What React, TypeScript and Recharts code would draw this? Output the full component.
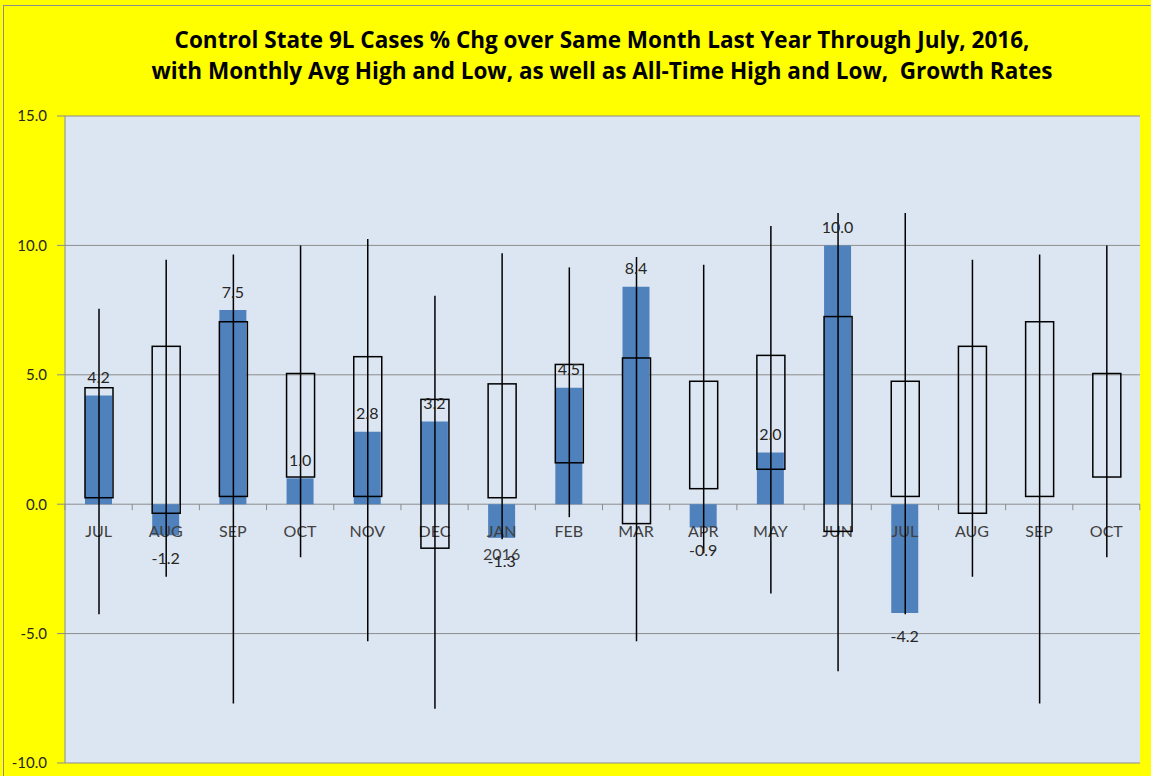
import React from 'react';
import { ComposedChart, Bar, XAxis, YAxis, CartesianGrid, LabelList } from 'recharts';

// month categories along the axis (Jul 2015 .. Oct 2016)
const months = ['JUL', 'AUG', 'SEP', 'OCT', 'NOV', 'DEC', 'JAN', 'FEB', 'MAR', 'APR', 'MAY', 'JUN', 'JUL', 'AUG', 'SEP', 'OCT'];
const yearTags = ['', '', '', '', '', '', '2016', '', '', '', '', '', '', '', '', ''];

// % change vs same month last year (blue columns)
const currentChg = [4.2, -1.2, 7.5, 1.0, 2.8, 3.2, -1.3, 4.5, 8.4, -0.9, 2.0, 10.0, -4.2, null, null, null];

// monthly average high / low (open boxes)
const avgHigh = [4.5, 6.1, 7.05, 5.05, 5.7, 4.05, 4.65, 5.4, 5.65, 4.75, 5.75, 7.25, 4.75, 6.1, 7.05, 5.05];
const avgLow = [0.25, -0.35, 0.3, 1.05, 0.3, -1.7, 0.25, 1.6, -0.75, 0.6, 1.35, -1.05, 0.3, -0.35, 0.3, 1.05];

// all-time high / low (whiskers)
const allHigh = [7.55, 9.45, 9.65, 10.0, 10.25, 8.05, 9.7, 9.15, 9.55, 9.25, 10.75, 11.25, 11.25, 9.45, 9.65, 10.0];
const allLow = [-4.25, -2.8, -7.7, -2.05, -5.3, -7.9, -1.35, -0.5, -5.3, -1.9, -3.45, -6.45, -4.25, -2.8, -7.7, -2.05];

const yTicks = [-10, -5, 0, 5, 10, 15];

const data = months.map((m, i) => ({
  idx: i,
  month: m,
  year: yearTags[i],
  current: currentChg[i],
  box: [avgLow[i], avgHigh[i]],
  range: [allLow[i], allHigh[i]],
  base: 0,
}));

const FONT = 'Lato, "Open Sans", sans-serif';

// axis labels + boundary ticks drawn on the zero line
const AxisMark = (props: any) => {
  const { x, y, width, index } = props;
  const d = data[index] || props.payload;
  const cx = x + width / 2;
  return (
    <g>
      <line x1={x} x2={x} y1={y} y2={y + 6} stroke="#8c8c8c" strokeWidth={1} />
      {index === data.length - 1 && <line x1={x + width} x2={x + width} y1={y} y2={y + 6} stroke="#8c8c8c" strokeWidth={1} />}
      <text x={cx} y={y + 26} textAnchor="middle" dominantBaseline="central" fontFamily={FONT} fontSize={16} fill="#404040">
        {d.month}
      </text>
      {d.year && (
        <text x={cx} y={y + 49} textAnchor="middle" dominantBaseline="central" fontFamily={FONT} fontSize={16} fill="#404040">
          {d.year}
        </text>
      )}
    </g>
  );
};

const BoxShape = (props: any) => {
  const { x, y, width, height } = props;
  const top = Math.min(y, y + height);
  const h = Math.abs(height);
  return <rect x={x} y={top} width={width} height={h} fill="none" stroke="#000" strokeWidth={1.5} />;
};

const Whisker = (props: any) => {
  const { x, y, width, height } = props;
  const cx = x + width / 2;
  return <line x1={cx} x2={cx} y1={Math.min(y, y + height)} y2={Math.max(y, y + height)} stroke="#000" strokeWidth={1.5} />;
};

const ValueLabel = (props: any) => {
  const { value } = props;
  if (value == null) return null;
  const vb = props.viewBox && props.viewBox.width != null ? props.viewBox : props;
  const { x, y, width, height } = vb;
  const top = Math.min(y, y + height);
  const bottom = Math.max(y, y + height);
  const ty = value >= 0 ? top - 19 : bottom + 22.5;
  return (
    <text x={x + width / 2} y={ty} textAnchor="middle" dominantBaseline="central" fontFamily={FONT} fontSize={16} fill="#262626">
      {Number(value).toFixed(1)}
    </text>
  );
};

export default function App() {
  return (
    <div style={{ position: 'absolute', left: 0, top: 0, width: 1151, height: 776, overflow: 'hidden', background: '#ffff00' }}>
      <div style={{ position: 'absolute', left: 3, top: 5, width: 1200, height: 800, borderLeft: '1px solid #8c8c8c', borderTop: '1px solid #8c8c8c' }} />
      <div
        style={{
          position: 'absolute', left: 0, top: 24, width: 1204, textAlign: 'center',
          fontFamily: '"Open Sans", Lato, sans-serif', fontWeight: 700, fontSize: 22.5, lineHeight: '31px', color: '#000',
          whiteSpace: 'nowrap',
        }}
      >
        Control State 9L Cases % Chg over Same Month Last Year Through July, 2016,
        <br />
        with Monthly Avg High and Low, as well as All-Time High and Low,&nbsp; Growth Rates
      </div>
      <div style={{ position: 'absolute', left: 0, top: 0 }}>
        <ComposedChart width={1151} height={776} data={data} barCategoryGap={0} margin={{ top: 116, right: 11, bottom: 13, left: 0 }}>
          <CartesianGrid vertical={false} stroke="#8c8c8c" fill="#dce6f2" />
          <XAxis xAxisId="axis" dataKey="idx" hide />
          <XAxis xAxisId="cur" dataKey="idx" hide />
          <XAxis xAxisId="box" dataKey="idx" hide />
          <XAxis xAxisId="wh" dataKey="idx" hide />
          <YAxis
            domain={[-10, 15]}
            ticks={yTicks}
            width={65}
            tickFormatter={(v: number) => v.toFixed(1)}
            axisLine={{ stroke: '#8c8c8c' }}
            tickLine={{ stroke: '#8c8c8c' }}
            tickSize={8}
            tickMargin={10}
            tick={{ fontFamily: FONT, fontSize: 15, fill: '#262626' }}
          />
          <Bar xAxisId="cur" dataKey="current" fill="#4f81bd" barSize={27} isAnimationActive={false}>
            <LabelList dataKey="current" content={ValueLabel} />
          </Bar>
          <Bar xAxisId="axis" dataKey="base" shape={AxisMark} isAnimationActive={false} />
          <Bar xAxisId="box" dataKey="box" barSize={28} shape={BoxShape} isAnimationActive={false} />
          <Bar xAxisId="wh" dataKey="range" shape={Whisker} barSize={28} isAnimationActive={false} />
        </ComposedChart>
      </div>
    </div>
  );
}
